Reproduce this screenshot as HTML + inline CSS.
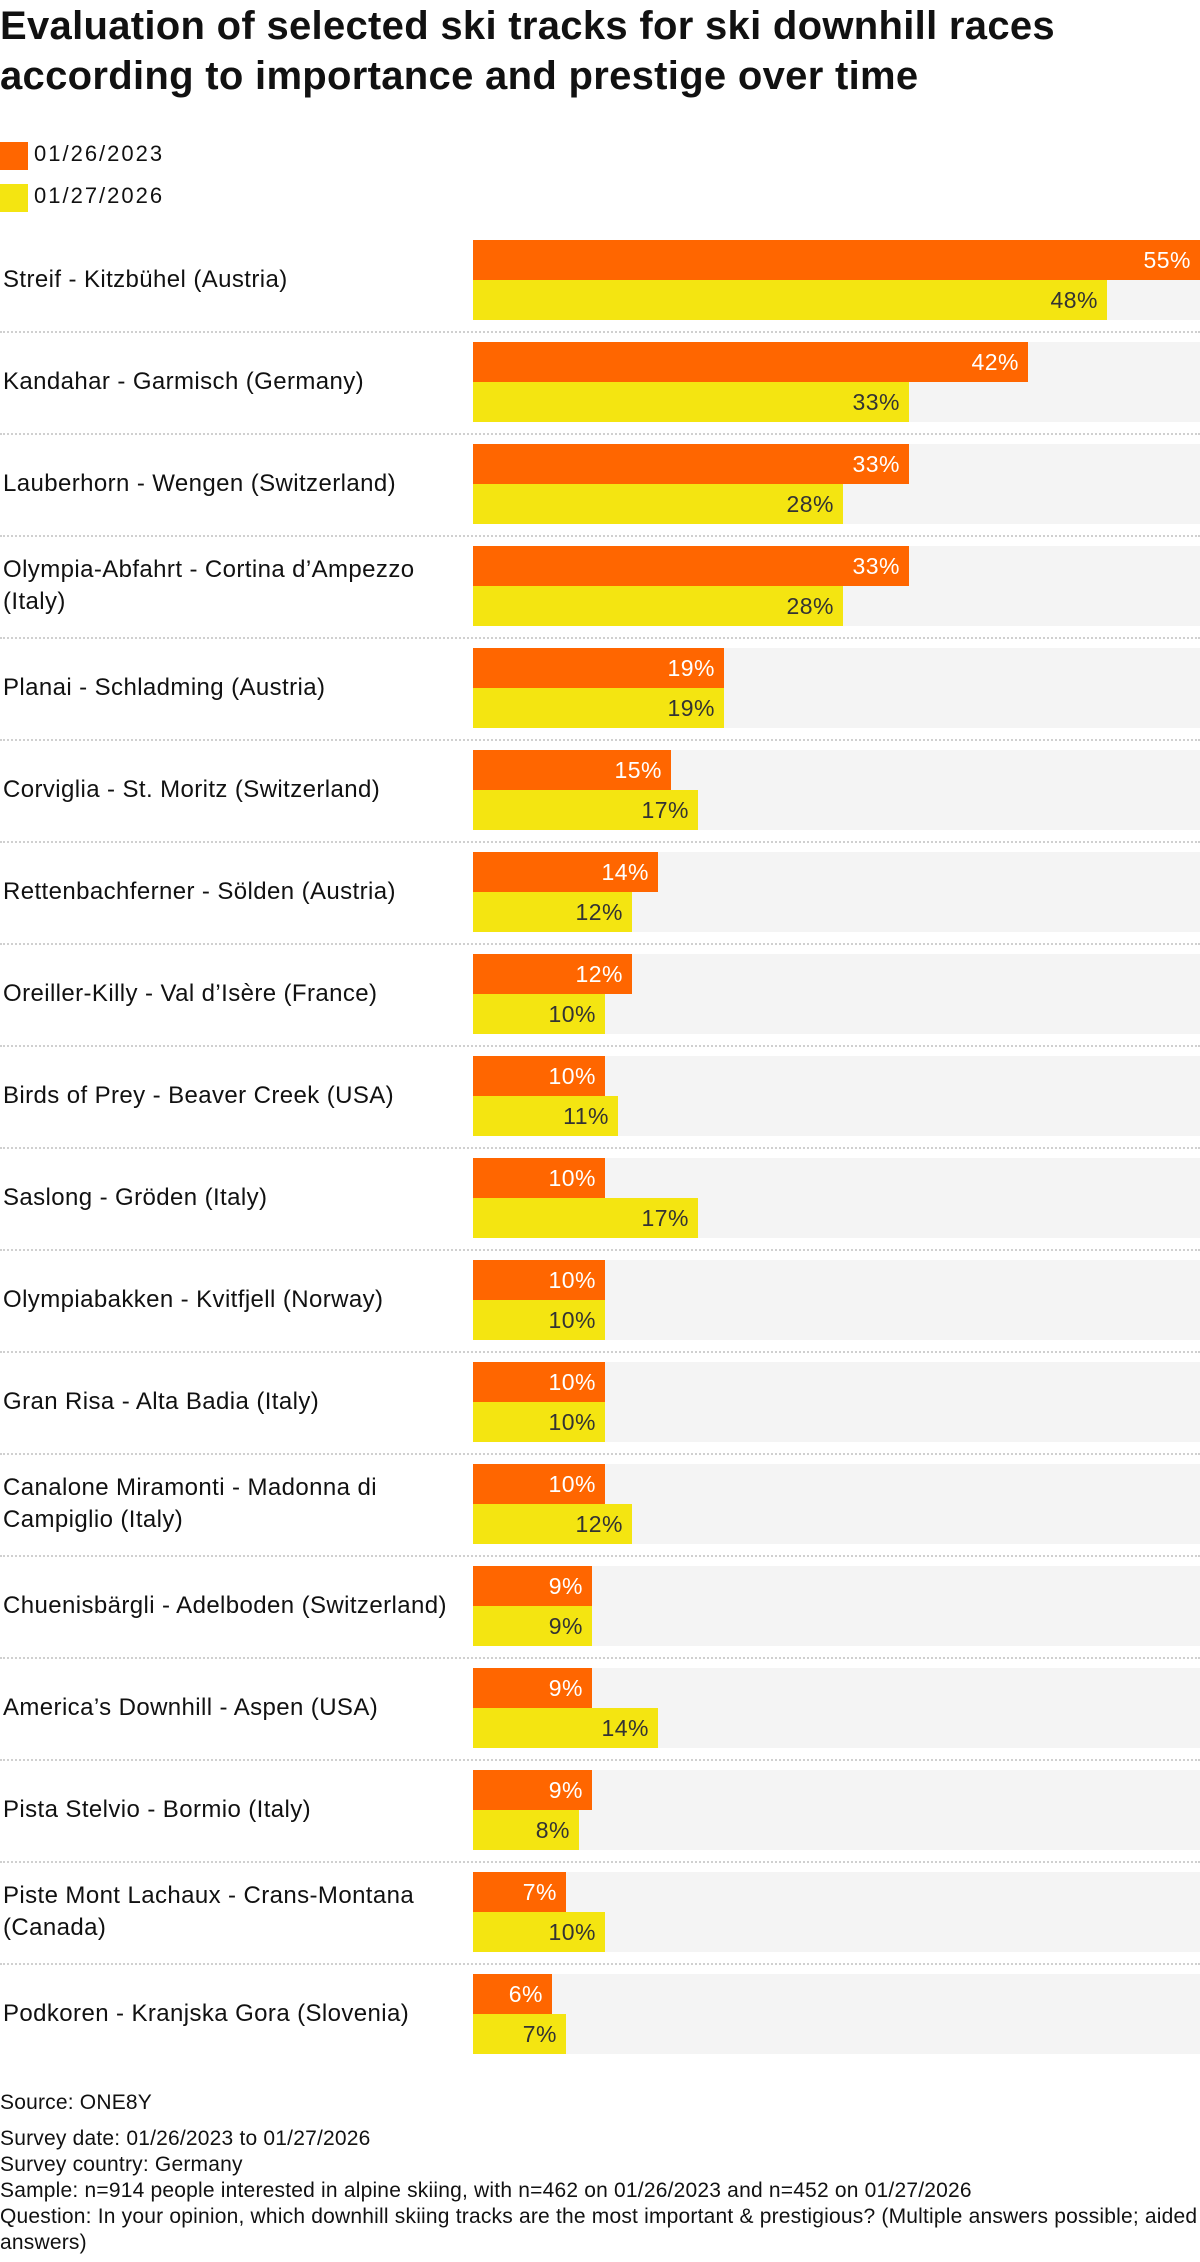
<!DOCTYPE html>
<html><head><meta charset="utf-8"><style>
body{margin:0;width:1200px;height:2262px;background:#fff;position:relative;overflow:hidden;font-family:"Liberation Sans",sans-serif;color:#111}
.t{position:absolute;left:0;white-space:nowrap;font-weight:bold;font-size:40px;letter-spacing:0.3px}
.lg{position:absolute;left:0;width:28px;height:28px}
.lt{position:absolute;left:34px;font-size:22px;line-height:28px;letter-spacing:2px;white-space:nowrap}
.row{position:absolute;left:0;width:1200px;height:102px}
.lab{position:absolute;left:3px;top:0;height:80px;width:470px;display:flex;align-items:center;font-size:24px;line-height:32px;letter-spacing:0.4px}
.lab span{display:block;white-space:nowrap}
.bg{position:absolute;left:473px;top:0;width:727px;height:80px;background:#f4f4f4}
.o,.y{position:absolute;left:473px;height:40px;box-sizing:border-box;text-align:right;padding-right:9px;font-size:23px;line-height:40px;letter-spacing:0.5px}
.o{top:0;background:#ff6600;color:#fff}
.y{top:40px;background:#f4e511;color:#333}
.sep{position:absolute;left:0;top:91px;width:1200px;border-top:2px dotted #d0d0d0}
.f{position:absolute;left:0;font-size:21px;letter-spacing:0.2px;white-space:nowrap;color:#111}
</style></head><body>
<div class="t" style="top:4px">Evaluation of selected ski tracks for ski downhill races</div>
<div class="t" style="top:54px">according to importance and prestige over time</div>
<div class="lg" style="top:142px;background:#ff6600"></div><div class="lt" style="top:140px">01/26/2023</div>
<div class="lg" style="top:184px;background:#f4e511"></div><div class="lt" style="top:182px">01/27/2026</div>

<div class="row" style="top:240px"><div class="lab"><span>Streif - Kitzbühel (Austria)</span></div><div class="bg"></div><div class="o" style="width:727px">55%</div><div class="y" style="width:634px">48%</div><div class="sep"></div></div>
<div class="row" style="top:342px"><div class="lab"><span>Kandahar - Garmisch (Germany)</span></div><div class="bg"></div><div class="o" style="width:555px">42%</div><div class="y" style="width:436px">33%</div><div class="sep"></div></div>
<div class="row" style="top:444px"><div class="lab"><span>Lauberhorn - Wengen (Switzerland)</span></div><div class="bg"></div><div class="o" style="width:436px">33%</div><div class="y" style="width:370px">28%</div><div class="sep"></div></div>
<div class="row" style="top:546px"><div class="lab"><span>Olympia-Abfahrt - Cortina d’Ampezzo<br>(Italy)</span></div><div class="bg"></div><div class="o" style="width:436px">33%</div><div class="y" style="width:370px">28%</div><div class="sep"></div></div>
<div class="row" style="top:648px"><div class="lab"><span>Planai - Schladming (Austria)</span></div><div class="bg"></div><div class="o" style="width:251px">19%</div><div class="y" style="width:251px">19%</div><div class="sep"></div></div>
<div class="row" style="top:750px"><div class="lab"><span>Corviglia - St. Moritz (Switzerland)</span></div><div class="bg"></div><div class="o" style="width:198px">15%</div><div class="y" style="width:225px">17%</div><div class="sep"></div></div>
<div class="row" style="top:852px"><div class="lab"><span>Rettenbachferner - Sölden (Austria)</span></div><div class="bg"></div><div class="o" style="width:185px">14%</div><div class="y" style="width:159px">12%</div><div class="sep"></div></div>
<div class="row" style="top:954px"><div class="lab"><span>Oreiller-Killy - Val d’Isère (France)</span></div><div class="bg"></div><div class="o" style="width:159px">12%</div><div class="y" style="width:132px">10%</div><div class="sep"></div></div>
<div class="row" style="top:1056px"><div class="lab"><span>Birds of Prey - Beaver Creek (USA)</span></div><div class="bg"></div><div class="o" style="width:132px">10%</div><div class="y" style="width:145px">11%</div><div class="sep"></div></div>
<div class="row" style="top:1158px"><div class="lab"><span>Saslong - Gröden (Italy)</span></div><div class="bg"></div><div class="o" style="width:132px">10%</div><div class="y" style="width:225px">17%</div><div class="sep"></div></div>
<div class="row" style="top:1260px"><div class="lab"><span>Olympiabakken - Kvitfjell (Norway)</span></div><div class="bg"></div><div class="o" style="width:132px">10%</div><div class="y" style="width:132px">10%</div><div class="sep"></div></div>
<div class="row" style="top:1362px"><div class="lab"><span>Gran Risa - Alta Badia (Italy)</span></div><div class="bg"></div><div class="o" style="width:132px">10%</div><div class="y" style="width:132px">10%</div><div class="sep"></div></div>
<div class="row" style="top:1464px"><div class="lab"><span>Canalone Miramonti - Madonna di<br>Campiglio (Italy)</span></div><div class="bg"></div><div class="o" style="width:132px">10%</div><div class="y" style="width:159px">12%</div><div class="sep"></div></div>
<div class="row" style="top:1566px"><div class="lab"><span>Chuenisbärgli - Adelboden (Switzerland)</span></div><div class="bg"></div><div class="o" style="width:119px">9%</div><div class="y" style="width:119px">9%</div><div class="sep"></div></div>
<div class="row" style="top:1668px"><div class="lab"><span>America’s Downhill - Aspen (USA)</span></div><div class="bg"></div><div class="o" style="width:119px">9%</div><div class="y" style="width:185px">14%</div><div class="sep"></div></div>
<div class="row" style="top:1770px"><div class="lab"><span>Pista Stelvio - Bormio (Italy)</span></div><div class="bg"></div><div class="o" style="width:119px">9%</div><div class="y" style="width:106px">8%</div><div class="sep"></div></div>
<div class="row" style="top:1872px"><div class="lab"><span>Piste Mont Lachaux - Crans-Montana<br>(Canada)</span></div><div class="bg"></div><div class="o" style="width:93px">7%</div><div class="y" style="width:132px">10%</div><div class="sep"></div></div>
<div class="row" style="top:1974px"><div class="lab"><span>Podkoren - Kranjska Gora (Slovenia)</span></div><div class="bg"></div><div class="o" style="width:79px">6%</div><div class="y" style="width:93px">7%</div></div>

<div class="f" style="top:2091px">Source: ONE8Y</div>
<div class="f" style="top:2127px">Survey date: 01/26/2023 to 01/27/2026</div>
<div class="f" style="top:2153px">Survey country: Germany</div>
<div class="f" style="top:2179px">Sample: n=914 people interested in alpine skiing, with n=462 on 01/26/2023 and n=452 on 01/27/2026</div>
<div class="f" style="top:2205px">Question: In your opinion, which downhill skiing tracks are the most important &amp; prestigious? (Multiple answers possible; aided</div>
<div class="f" style="top:2231px">answers)</div>
</body></html>
